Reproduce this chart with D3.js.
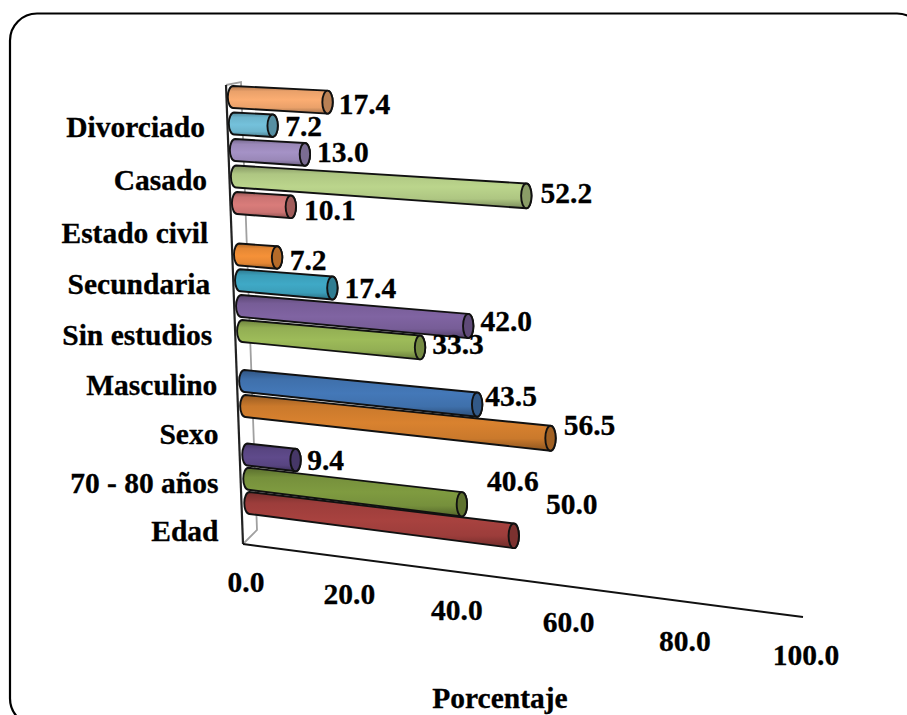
<!DOCTYPE html>
<html lang="es">
<head>
<meta charset="utf-8">
<title>Porcentaje por categoría</title>
<script src="https://d3js.org/d3.v7.min.js"></script>
<style>
  html, body { margin: 0; padding: 0; background: #fff; overflow: hidden; }
  svg { display: block; }
  text { font-family: "Liberation Serif", "Times New Roman", serif; font-weight: bold; fill: #000; stroke: #000; stroke-width: 0.3px; }
</style>
</head>
<body>
<svg id="chart" width="907" height="715"></svg>
<script>
// Category slots, bottom to top. Only every second slot carries a printed label.
const categories = ["Edad", "", "70 - 80 años", "", "Sexo", "", "Masculino", "", "Sin estudios", "", "Secundaria", "", "Estado civil", "", "Casado", "", "Divorciado", ""];
// Percentage per slot; null means the slot has no bar.
const values = [null, 50.0, 40.6, 9.4, null, 56.5, 43.5, null, 33.3, 42.0, 17.4, 7.2, null, 10.1, 52.2, 13.0, 7.2, 17.4];
const barColors = [null, "#a8423f", "#7f9b40", "#5f4a8b", null, "#d9822f", "#4478b8", null, "#9dbb59", "#8064a2", "#3fa9c6", "#f59138", null, "#d97c7a", "#bbd58c", "#a592c6", "#74c1db", "#fbad72"];
// Label displacement from the end of each bar.
const labelShiftX = [0, 58, 51, 30, 0, 39, 34, 0, 38, 38, 38, 31, 0, 39, 40, 38, 31, 37];
const labelShiftY = [0, -32, -23, 0, 0, -13, -8, 0, -3, -5, 0, 3, 0, 3, -3, -2, 1, 2];
const categoryShiftX = [-2, 0, 0, 0, 2, 0, 3, 0, 0, 0, 0, 0, 0, 0, 1, 0, 1, 0];
const axisTicks = [0, 20, 40, 60, 80, 100];
const tickShiftY = [0, -1.5, 1, -2, 2, 0];
const axisTitle = "Porcentaje";

const svg = d3.select("#chart");
const FONT = 29.5;

// Foreshortening of the value axis: equal steps get wider towards the viewer.
const unit = d3.scaleLinear().domain([0, 100]).range([0, 1]);
const depth = v => { const u = unit(v); return u / (1 + 0.104 * (1 - u)); };

// Row geometry of the tilted plot, all indexed by slot number.
const rowX = d3.scaleLinear().domain([1, 17]).range([249.5, 233]);
const rowY = d3.scaleLinear().domain([1, 5, 9, 13, 17]).range([503, 406, 306, 203, 97]);
const rowLength = d3.scaleLinear().domain([1, 17]).range([556, 590]);
const rowDrop = d3.scaleLinear().domain([1, 17]).range([69, 32]);
const project = (v, slot) => [
  rowX(slot) + depth(v) * rowLength(slot),
  rowY(slot) + depth(v) * rowDrop(slot)
];
const radius = d3.scaleLinear().domain([0, 60]).range([11, 12.6]);
const CAP_RX = 5.2;

// Outer frame, running past the right and bottom of the page.
svg.append("rect")
  .attr("x", 10).attr("y", 13.5).attr("width", 914).attr("height", 712)
  .attr("rx", 27).attr("ry", 27)
  .attr("fill", "#fff").attr("stroke", "#000").attr("stroke-width", 2.2);

// Back wall and floor of the plot box.
const floorX = d3.scaleLinear().domain([0, 1]).range([243, 803]);
const floorY = d3.scaleLinear().domain([0, 1]).range([544, 617]);
const lineGen = d3.line();
svg.append("path")
  .attr("d", lineGen([[243, 544], [257, 530], [241, 82], [226, 85]]))
  .attr("fill", "none").attr("stroke", "#a0a0a0").attr("stroke-width", 1.8);
svg.append("path")
  .attr("d", lineGen([[226, 85], [243, 544]]))
  .attr("fill", "none").attr("stroke", "#222").attr("stroke-width", 2.2);
svg.append("path")
  .attr("d", lineGen([0, 100].map(v => [floorX(depth(v)), floorY(depth(v))])))
  .attr("fill", "none").attr("stroke", "#111").attr("stroke-width", 2);

// Cylinder shading: dark rim, bright band near the middle.
const defs = svg.append("defs");
function addShade(id, base) {
  const c = d3.color(base);
  const g = defs.append("linearGradient").attr("id", id)
    .attr("x1", 0).attr("y1", 0).attr("x2", 0).attr("y2", 1);
  [[0, c.darker(1.0)], [0.2, c.darker(0.2)], [0.5, c], [0.78, c.darker(0.2)], [1, c.darker(1.2)]]
    .forEach(([o, col]) => g.append("stop").attr("offset", o).attr("stop-color", d3.color(col).formatHex()));
}

const bars = values.map((v, slot) => ({ v, slot, color: barColors[slot] })).filter(d => d.v !== null);
bars.forEach(d => addShade("shade" + d.slot, d.color));

// Bars are stacked back to front, so lower rows overlap the ones above.
const barG = svg.append("g").selectAll("g")
  .data(bars.slice().reverse())
  .join("g");

barG.append("path")
  .attr("d", d => {
    const [x0, y0] = project(0, d.slot);
    const [x1, y1] = project(d.v, d.slot);
    const r0 = radius(0), r1 = radius(d.v);
    return `M${x0},${y0 - r0} L${x1},${y1 - r1} A${CAP_RX},${r1} 0 0 1 ${x1},${y1 + r1} L${x0},${y0 + r0} A${CAP_RX},${r0} 0 0 1 ${x0},${y0 - r0} Z`;
  })
  .attr("fill", d => `url(#shade${d.slot})`)
  .attr("stroke", "#111").attr("stroke-width", 1.9);

barG.append("ellipse")
  .attr("cx", d => project(d.v, d.slot)[0])
  .attr("cy", d => project(d.v, d.slot)[1])
  .attr("rx", CAP_RX)
  .attr("ry", d => radius(d.v))
  .attr("fill", d => d3.color(d.color).darker(0.85).formatHex())
  .attr("stroke", "#111").attr("stroke-width", 1.9);

// Value labels.
svg.append("g").selectAll("text")
  .data(bars)
  .join("text")
  .attr("x", d => project(d.v, d.slot)[0] + labelShiftX[d.slot])
  .attr("y", d => project(d.v, d.slot)[1] + labelShiftY[d.slot])
  .attr("dy", "0.33em")
  .attr("text-anchor", "middle")
  .attr("font-size", FONT)
  .text(d => d3.format(".1f")(d.v));

// Category labels follow the slanted vertical axis.
svg.append("g").selectAll("text")
  .data(categories.map((name, slot) => ({ name, slot })).filter(d => d.name))
  .join("text")
  .attr("x", d => rowX(d.slot) - 30 + categoryShiftX[d.slot])
  .attr("y", d => rowY(d.slot) + 5)
  .attr("dy", "0.3em")
  .attr("text-anchor", "end")
  .attr("font-size", FONT)
  .text(d => d.name);

// Value axis tick labels under the floor line.
svg.append("g").selectAll("text")
  .data(axisTicks)
  .join("text")
  .attr("x", v => floorX(depth(v)) + 3)
  .attr("y", (v, i) => floorY(depth(v)) + 38 + tickShiftY[i])
  .attr("dy", "0.33em")
  .attr("text-anchor", "middle")
  .attr("font-size", FONT)
  .text(d3.format(".1f"));

svg.append("text")
  .attr("x", 500).attr("y", 708)
  .attr("text-anchor", "middle")
  .attr("font-size", FONT)
  .text(axisTitle);
</script>
</body>
</html>
